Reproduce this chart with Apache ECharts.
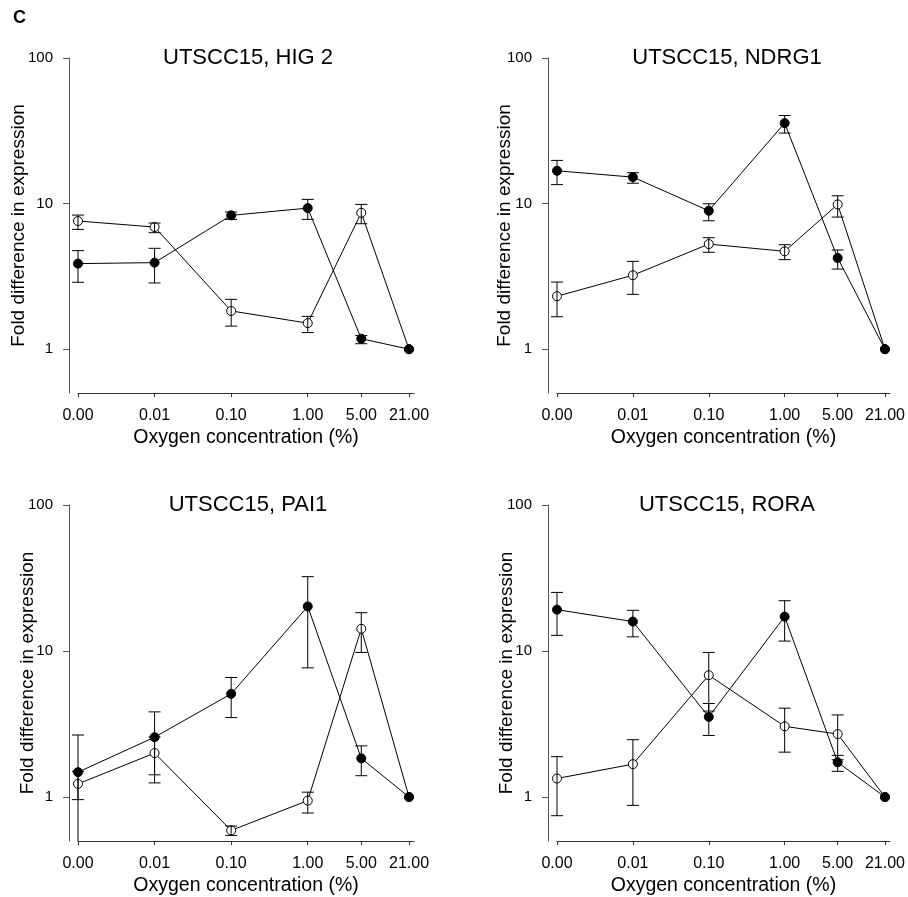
<!DOCTYPE html>
<html>
<head>
<meta charset="utf-8">
<script src="https://cdn.jsdelivr.net/npm/echarts@6/dist/echarts.min.js"></script>
<style>
  html, body { margin: 0; padding: 0; background: #fff; }
  #chart { width: 908px; height: 897px; }
</style>
</head>
<body>
<div id="chart"></div>
<script>
// oxygen levels: 0.00 is drawn one decade below 0.01
var oxygen = [0.001, 0.01, 0.1, 1, 5, 21];
var oxygenLabels = ['0.00', '0.01', '0.10', '1.00', '5.00', '21.00'];
var yTicks = [1, 10, 100];

var titles = ['UTSCC15, HIG 2', 'UTSCC15, NDRG1', 'UTSCC15, PAI1', 'UTSCC15, RORA'];

// HIG 2
var hig2Solid = [3.87, 3.93, 8.30, 9.31, 1.18, 1];
var hig2SolidErr = [[2.88, 4.75], [2.85, 4.93], [7.79, 8.75], [7.79, 10.69], [1.09, 1.24], null];
var hig2Open = [7.59, 6.90, 1.83, 1.51, 8.65, 1];
var hig2OpenErr = [[6.65, 8.34], [6.31, 7.35], [1.44, 2.20], [1.30, 1.68], [7.27, 9.87], null];

// NDRG1
var ndrg1Solid = [16.8, 15.2, 8.93, 35.7, 4.23, 1];
var ndrg1SolidErr = [[13.5, 19.8], [13.8, 16.3], [7.62, 9.97], [30.5, 40.3], [3.55, 4.80], null];
var ndrg1Open = [2.31, 3.22, 5.27, 4.70, 9.87, 1];
var ndrg1OpenErr = [[1.67, 2.89], [2.38, 4.01], [4.63, 5.83], [4.12, 5.22], [8.08, 11.31], null];

// PAI1
var pai1Solid = [1.48, 2.57, 5.09, 20.2, 1.84, 1];
var pai1SolidErr = [[0.30, 2.66], [1.25, 3.83], [3.50, 6.59], [7.67, 32.3], [1.40, 2.24], null];
var pai1Open = [1.23, 2.00, 0.591, 0.945, 14.2, 1];
var pai1OpenErr = [[0.96, 1.50], [1.42, 2.58], [0.546, 0.633], [0.777, 1.08], [9.78, 18.3], null];

// RORA
var roraSolid = [19.2, 15.9, 3.54, 17.2, 1.73, 1];
var roraSolidErr = [[12.8, 25.2], [12.5, 19.0], [2.64, 4.37], [11.7, 22.1], [1.50, 1.93], null];
var roraOpen = [1.34, 1.68, 6.83, 3.05, 2.70, 1];
var roraOpenErr = [[0.745, 1.89], [0.877, 2.47], [3.88, 9.78], [2.03, 4.06], [1.80, 3.65], null];

var panels = [
  { solid: hig2Solid, solidErr: hig2SolidErr, open: hig2Open, openErr: hig2OpenErr },
  { solid: ndrg1Solid, solidErr: ndrg1SolidErr, open: ndrg1Open, openErr: ndrg1OpenErr },
  { solid: pai1Solid, solidErr: pai1SolidErr, open: pai1Open, openErr: pai1OpenErr },
  { solid: roraSolid, solidErr: roraSolidErr, open: roraOpen, openErr: roraOpenErr }
];

var FONT = '"Liberation Sans", Arial, Helvetica, sans-serif';
var Y_MIN = 0.5, Y_MAX = 100;

// grid boxes of each panel
var grids = [
  { left: 78, top: 58, width: 336, height: 335, nameGap: 41 },
  { left: 557, top: 58, width: 336, height: 335, nameGap: 34 },
  { left: 78, top: 505, width: 336, height: 337, nameGap: 32 },
  { left: 557, top: 505, width: 336, height: 337, nameGap: 32 }
];

function pairs(vals) {
  return vals.map(function (v, i) { return [oxygen[i], v]; });
}
function errPairs(errs) {
  var out = [];
  errs.forEach(function (e, i) {
    if (e) out.push([oxygen[i], e[0], e[1]]);
  });
  return out;
}

function renderErr(params, api) {
  var x = api.value(0), lo = api.value(1), hi = api.value(2);
  var clipped = lo < Y_MIN;
  var top = api.coord([x, Math.min(hi, Y_MAX)]);
  var bot = api.coord([x, Math.max(lo, Y_MIN)]);
  var hw = 6;
  var st = { stroke: '#000', lineWidth: 1 };
  var kids = [
    { type: 'line', shape: { x1: top[0], y1: top[1], x2: bot[0], y2: bot[1] }, style: st },
    { type: 'line', shape: { x1: top[0] - hw, y1: top[1], x2: top[0] + hw, y2: top[1] }, style: st }
  ];
  if (!clipped) {
    kids.push({ type: 'line', shape: { x1: bot[0] - hw, y1: bot[1], x2: bot[0] + hw, y2: bot[1] }, style: st });
  }
  return { type: 'group', children: kids };
}

var option = {
  animation: false,
  backgroundColor: '#fff',
  grid: [],
  xAxis: [],
  yAxis: [],
  series: [],
  graphic: [
    { type: 'text', left: 13, top: 9, style: { text: 'C', font: 'bold 18px ' + FONT, fill: '#000' } }
  ]
};

grids.forEach(function (g, i) {
  option.grid.push({ left: g.left, top: g.top, width: g.width, height: g.height });
  option.xAxis.push({
    type: 'log', gridIndex: i, min: 0.001, max: 24.4,
    name: 'Oxygen concentration (%)', nameLocation: 'middle', nameGap: 35, nameMoveOverlap: false,
    nameTextStyle: { fontFamily: FONT, fontSize: 19.5, color: '#000' },
    axisLine: { lineStyle: { color: '#333', width: 1 } },
    axisTick: { customValues: oxygen, length: 4, lineStyle: { color: '#333' } },
    axisLabel: {
      customValues: oxygen, margin: 15, fontFamily: FONT, fontSize: 16, color: '#000',
      formatter: function (v) {
        var k = oxygen.findIndex(function (o) { return Math.abs(o - v) / o < 1e-6; });
        return k >= 0 ? oxygenLabels[k] : '';
      }
    },
    splitLine: { show: false }, minorTick: { show: false }
  });
  option.yAxis.push({
    type: 'log', gridIndex: i, min: Y_MIN, max: Y_MAX, offset: 9,
    name: 'Fold difference in expression', nameLocation: 'middle', nameGap: g.nameGap, nameMoveOverlap: false,
    nameTextStyle: { fontFamily: FONT, fontSize: 19, color: '#000' },
    axisLine: { show: true, lineStyle: { color: '#555', width: 1 } },
    axisTick: { show: true, customValues: yTicks, length: 6, lineStyle: { color: '#555' } },
    axisLabel: { customValues: yTicks, margin: 16, fontFamily: FONT, fontSize: 15, color: '#000' },
    splitLine: { show: false }, minorTick: { show: false }
  });
  option.graphic.push({
    type: 'text', x: g.left + g.width / 2 + 2, y: g.top,
    style: { text: titles[i], font: '22px ' + FONT, fill: '#000', align: 'center', verticalAlign: 'middle' }
  });

  var p = panels[i];
  // open first so the filled markers sit on top (e.g. shared 21% point)
  option.series.push({
    type: 'line', xAxisIndex: i, yAxisIndex: i, data: pairs(p.open),
    symbol: 'circle', symbolSize: 9, z: 3,
    lineStyle: { color: '#000', width: 1 },
    itemStyle: { color: '#fff', borderColor: '#000', borderWidth: 1 }
  });
  option.series.push({
    type: 'line', xAxisIndex: i, yAxisIndex: i, data: pairs(p.solid),
    symbol: 'circle', symbolSize: 9, z: 3,
    lineStyle: { color: '#000', width: 1 },
    itemStyle: { color: '#000', borderColor: '#000', borderWidth: 1 }
  });
  option.series.push({
    type: 'custom', xAxisIndex: i, yAxisIndex: i, data: errPairs(p.solidErr),
    renderItem: renderErr, encode: { x: 0, y: [1, 2] }, z: 4, silent: true
  });
  option.series.push({
    type: 'custom', xAxisIndex: i, yAxisIndex: i, data: errPairs(p.openErr),
    renderItem: renderErr, encode: { x: 0, y: [1, 2] }, z: 4, silent: true
  });
});

var chart = echarts.init(document.getElementById('chart'));
chart.setOption(option);
</script>
</body>
</html>
